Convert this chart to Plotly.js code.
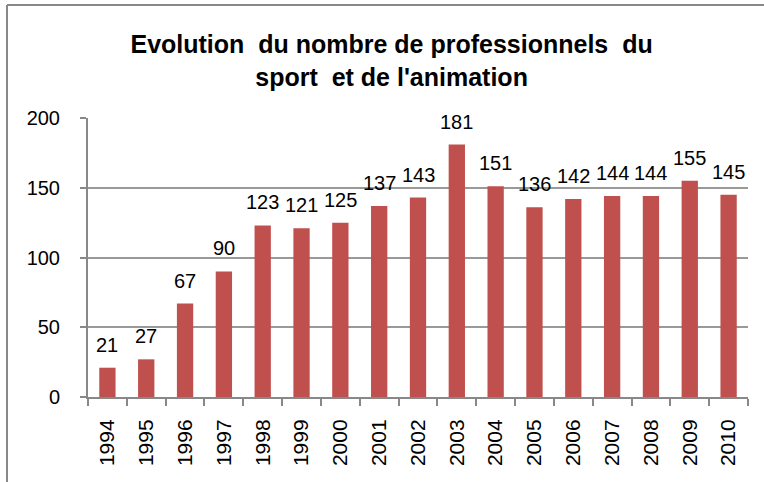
<!DOCTYPE html>
<html>
<head>
<meta charset="utf-8">
<script src="https://cdn.plot.ly/plotly-3.0.1.min.js"></script>
<style>html,body{margin:0;padding:0;background:#fff;}#chart{width:764px;height:482px;}</style>
</head>
<body>
<div id="chart"></div>
<script>
const years = ["1994","1995","1996","1997","1998","1999","2000","2001","2002","2003","2004","2005","2006","2007","2008","2009","2010"];
const values = [21,27,67,90,123,121,125,137,143,181,151,136,142,144,144,155,145];
const yTicks = [0,50,100,150,200];
const titleText = "Evolution  du nombre de professionnels  du<br>sport  et de l'animation";

const trace = {
  type: "bar",
  x: years,
  y: values,
  marker: {color: "#C0504D"},
  hoverinfo: "x+y"
};

// Data labels: placed at each bar's category index and value through the axes
const labels = years.map((yr, i) => ({
  x: i, y: values[i], xref: "x", yref: "y",
  text: String(values[i]),
  showarrow: false,
  yanchor: "bottom", yshift: 10,
  font: {family: "Liberation Sans, Arial, sans-serif", size: 20, color: "#000"}
}));

const layout = {
  width: 764, height: 482,
  margin: {l: 88, r: 16, t: 118, b: 85},
  paper_bgcolor: "#fff", plot_bgcolor: "#fff",
  showlegend: false,
  bargap: 0.58,
  title: {
    text: titleText,
    font: {family: "Liberation Sans, Arial, sans-serif", size: 25, color: "#000", weight: "bold"},
    x: 0.46, xanchor: "center", xref: "paper",
    y: 1 - 53/482, yanchor: "middle", yref: "container"
  },
  xaxis: {
    type: "category",
    categoryorder: "array",
    categoryarray: years,
    range: [-0.5, years.length - 0.5],
    tickangle: -90,
    tickson: "boundaries",
    ticks: "outside", ticklen: 7, tickcolor: "#888", tickwidth: 2,
    ticklabelstandoff: 12,
    showline: true, linecolor: "#888", linewidth: 2,
    showgrid: false,
    tickfont: {family: "Liberation Sans, Arial, sans-serif", size: 21, color: "#000"}
  },
  yaxis: {
    range: [0, 200],
    tickvals: yTicks,
    ticks: "outside", ticklen: 6, tickcolor: "#888", tickwidth: 2,
    ticklabelstandoff: 16,
    showline: true, linecolor: "#888", linewidth: 2,
    showgrid: true, gridcolor: "#999", gridwidth: 2,
    zeroline: false,
    tickfont: {family: "Liberation Sans, Arial, sans-serif", size: 20, color: "#000"}
  },
  annotations: labels,
  shapes: [
    {type: "line", xref: "paper", yref: "paper", x0: -81/660, x1: 1.1, y0: 392/279, y1: 392/279, line: {color: "#888", width: 2}},
    {type: "line", xref: "paper", yref: "paper", x0: -81/660, x1: -81/660, y0: -0.4, y1: 392/279, line: {color: "#888", width: 2}}
  ]
};

Plotly.newPlot("chart", [trace], layout, {displayModeBar: false, staticPlot: true});
</script>
</body>
</html>
